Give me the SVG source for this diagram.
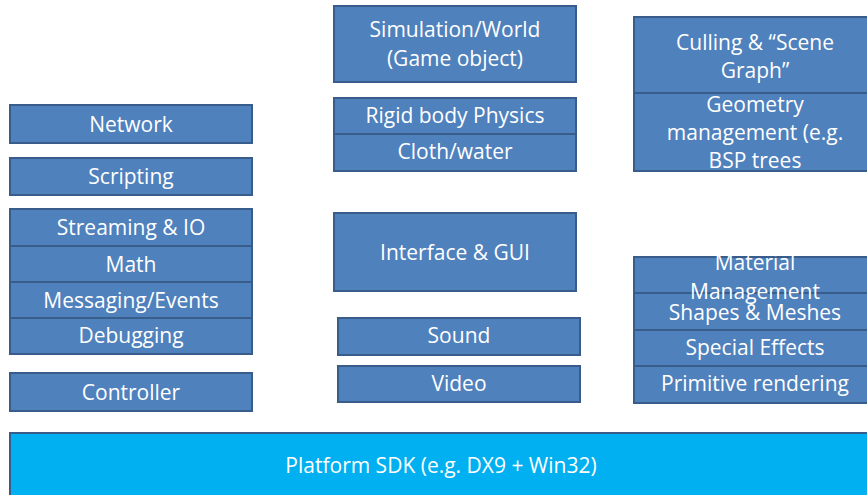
<svg xmlns="http://www.w3.org/2000/svg" width="867" height="495" viewBox="0 0 867 495">
<style>
.b{fill:#4F81BD;stroke:#385D8A;stroke-width:2}
.p{fill:#00B0F0;stroke:#385D8A;stroke-width:2}
text{font-family:"Open Sans","Liberation Sans",sans-serif;font-size:21px;fill:#FFFFFF;text-anchor:middle}
</style>
<rect width="867" height="495" fill="#FFFFFF"/>
<g id="connectors"></g>
<g id="network"><rect class="b" x="10" y="105" width="242" height="38"/><text x="131" y="132">Network</text></g>
<g id="scripting"><rect class="b" x="10" y="158" width="242" height="37"/><text x="131" y="184">Scripting</text></g>
<g id="streaming"><rect class="b" x="10" y="209" width="242" height="37"/><text x="131" y="235">Streaming &amp; IO</text></g>
<g id="math"><rect class="b" x="10" y="246" width="242" height="36"/><text x="131" y="272">Math</text></g>
<g id="messaging"><rect class="b" x="10" y="282" width="242" height="36"/><text x="131" y="308">Messaging/Events</text></g>
<g id="debugging"><rect class="b" x="10" y="318" width="242" height="36"/><text x="131" y="343">Debugging</text></g>
<g id="controller"><rect class="b" x="10" y="373" width="242" height="38"/><text x="131" y="400">Controller</text></g>
<g id="simulation"><rect class="b" x="334" y="6" width="242" height="76"/><text x="455" y="37">Simulation/World</text><text x="455" y="66">(Game object)</text></g>
<g id="rigid"><rect class="b" x="334" y="98" width="242" height="36"/><text x="455" y="123">Rigid body Physics</text></g>
<g id="cloth"><rect class="b" x="334" y="134" width="242" height="37"/><text x="455" y="159">Cloth/water</text></g>
<g id="interface"><rect class="b" x="334" y="213" width="242" height="78"/><text x="455" y="260">Interface &amp; GUI</text></g>
<g id="sound"><rect class="b" x="338" y="318" width="242" height="37"/><text x="459" y="343">Sound</text></g>
<g id="video"><rect class="b" x="338" y="366" width="242" height="36"/><text x="459" y="391">Video</text></g>
<g id="culling"><rect class="b" x="634" y="17" width="244" height="76"/><text x="755" y="50">Culling &amp; “Scene</text><text x="755" y="78">Graph”</text></g>
<g id="geometry"><rect class="b" x="634" y="93" width="244" height="78"/><text x="755" y="112">Geometry</text><text x="755" y="140">management (e.g.</text><text x="755" y="168">BSP trees</text></g>
<g id="shapes"><rect class="b" x="634" y="293" width="244" height="37"/><text x="755" y="320">Shapes &amp; Meshes</text></g>
<g id="material"><rect class="b" x="634" y="257" width="244" height="36"/><text x="755" y="270">Material</text><text x="755" y="299">Management</text></g>
<g id="special"><rect class="b" x="634" y="330" width="244" height="36"/><text x="755" y="355">Special Effects</text></g>
<g id="primitive"><rect class="b" x="634" y="366" width="244" height="37"/><text x="755" y="391">Primitive rendering</text></g>
<g id="platform"><rect class="p" x="10" y="433" width="870" height="70"/><text x="441" y="473">Platform SDK (e.g. DX9 + Win32)</text></g>
</svg>
